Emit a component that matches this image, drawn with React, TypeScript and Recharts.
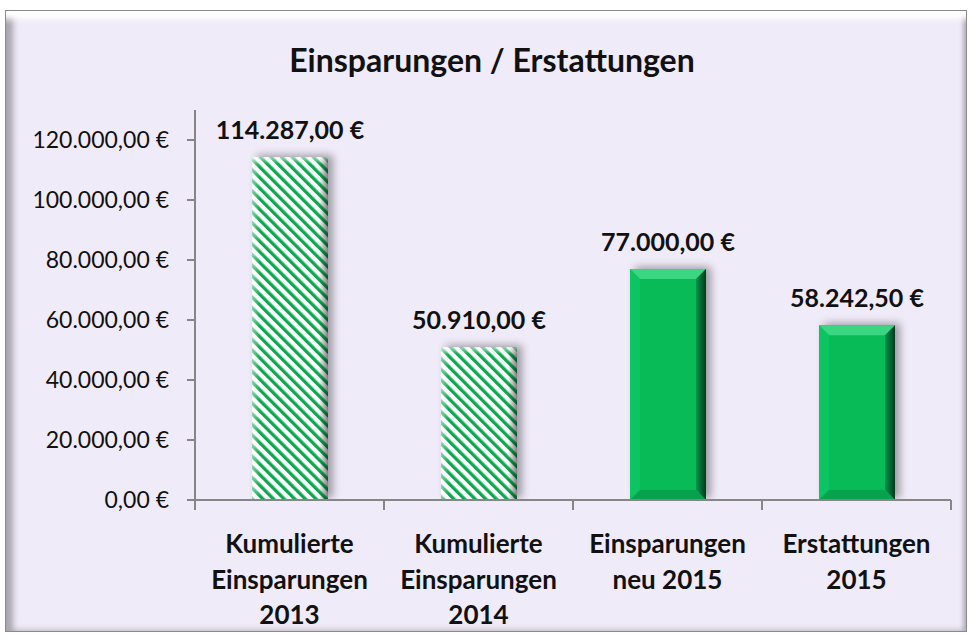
import { ComposedChart, Bar, XAxis, YAxis, LabelList } from "recharts";

const categories = [
  ["Kumulierte", "Einsparungen", "2013"],
  ["Kumulierte", "Einsparungen", "2014"],
  ["Einsparungen", "neu 2015"],
  ["Erstattungen", "2015"],
];
const values = [114287, 50910, 77000, 58242.5];
const hatched = [true, true, false, false];
const yTicks = [0, 20000, 40000, 60000, 80000, 100000, 120000];

const data = categories.map((lines, i) => ({
  name: lines.join(" "),
  lines,
  value: values[i],
  hatched: hatched[i],
}));

const FONT = "Lato, 'Open Sans', sans-serif";
const AXIS = "#868686";

// 114287 -> "114.287,00 €"
function euro(v: number) {
  const [int, dec] = Number(v).toFixed(2).split(".");
  const withDots = int.replace(/\B(?=(\d{3})+(?!\d))/g, ".");
  return `${withDots},${dec} €`;
}

// category label plus the tick marks on the category boundaries (Excel style)
function CategoryTick(props: any) {
  const { x, y, payload, index, visibleTicksCount } = props;
  const row = data.find((d) => d.name === payload.value);
  const lines = row ? row.lines : [String(payload.value)];
  const half = payload?.offset;
  return (
    <g>
      {typeof half === "number" && half > 0 && (
        <g stroke={AXIS} strokeWidth={2}>
          <line x1={x - half} x2={x - half} y1={y} y2={y + 10} />
          {index === visibleTicksCount - 1 && (
            <line x1={x + half} x2={x + half} y1={y} y2={y + 10} />
          )}
        </g>
      )}
      <text
        x={x}
        y={y}
        textAnchor="middle"
        fontFamily={FONT}
        fontWeight={700}
        fontSize={26}
        fill="#111"
      >
        {lines.map((l, i) => (
          <tspan key={i} x={x} y={y + 53 + i * 35.5}>
            {l}
          </tspan>
        ))}
      </text>
    </g>
  );
}

function ValueLabel(props: any) {
  const { x, y, width, value } = props;
  return (
    <text
      x={x + width / 2}
      y={y - 18}
      textAnchor="middle"
      fontFamily={FONT}
      fontWeight={700}
      fontSize={25}
      fill="#111"
    >
      {euro(Number(value))}
    </text>
  );
}

function BevelBar(props: any) {
  const { x, y, width: w, height: h, payload } = props;
  if (!h || h <= 0) return null;
  const isHatch = payload?.hatched;
  const b = 10;
  return (
    <g>
      <rect
        x={x}
        y={y}
        width={w}
        height={h}
        fill="#000"
        filter="url(#barShadow)"
      />
      <rect
        x={x}
        y={y}
        width={w}
        height={h}
        fill={isHatch ? "url(#stripes)" : "#08BB57"}
      />
      {isHatch ? (
        <g>
          <rect x={x} y={y} width={w} height={h} fill="url(#hatchShade)" />
          <rect x={x} y={y} width={w} height={7} fill="url(#hatchTop)" />
        </g>
      ) : (
        <g>
          <polygon
            points={`${x},${y} ${x + w},${y} ${x + w - b},${y + b} ${x + b},${y + b}`}
            fill="#3AD681"
          />
          <polygon
            points={`${x},${y} ${x + b},${y + b} ${x + b},${y + h - b} ${x},${y + h}`}
            fill="#0DC462"
          />
          <polygon
            points={`${x + w},${y} ${x + w},${y + h} ${x + w - b},${y + h - b} ${x + w - b},${y + b}`}
            fill="url(#rightBevel)"
          />
          <polygon
            points={`${x},${y + h} ${x + b},${y + h - b} ${x + w - b},${y + h - b} ${x + w},${y + h}`}
            fill="#06A24D"
          />
        </g>
      )}
    </g>
  );
}

export default function App() {
  return (
    <div
      style={{
        position: "absolute",
        left: 5,
        top: 10,
        width: 960,
        height: 620,
        background: "#F0EBF8",
        border: "1px solid #8a8a8a",
        boxShadow:
          "inset 0 14px 6px -6px #ffffff, inset 11px 0 6px -4px #a8a4ae, inset -5px 0 4px -2px #b2aeba, inset 0 -6px 5px -3px #d6d2de",
        fontFamily: FONT,
      }}
    >
      <div
        style={{
          position: "absolute",
          left: 0,
          right: 0,
          top: 29,
          textAlign: "center",
          fontSize: 32,
          fontWeight: 700,
          color: "#111",
          paddingLeft: 12,
        }}
      >
        Einsparungen / Erstattungen
      </div>
      <div style={{ position: "absolute", left: -1, top: -1 }}>
        <ComposedChart
          width={962}
          height={622}
          data={data}
          margin={{ top: 100, right: 16, left: 0, bottom: 0 }}
        >
          <defs>
            <pattern
              id="stripes"
              width="7.5"
              height="7.5"
              patternUnits="userSpaceOnUse"
              patternTransform="rotate(-45)"
            >
              <rect x="0" y="0" width="7.5" height="7.5" fill="#ffffff" />
              <rect x="0" y="0" width="3.3" height="7.5" fill="#0CA850" />
            </pattern>
            <linearGradient id="hatchShade" x1="0" y1="0" x2="1" y2="0">
              <stop offset="0" stopColor="#ffffff" stopOpacity={0.5} />
              <stop offset="0.1" stopColor="#ffffff" stopOpacity={0} />
              <stop offset="0.88" stopColor="#000000" stopOpacity={0} />
              <stop offset="1" stopColor="#000000" stopOpacity={0.5} />
            </linearGradient>
            <linearGradient id="hatchTop" x1="0" y1="0" x2="0" y2="1">
              <stop offset="0" stopColor="#ffffff" stopOpacity={0.55} />
              <stop offset="1" stopColor="#ffffff" stopOpacity={0} />
            </linearGradient>
            <linearGradient id="rightBevel" x1="0" y1="0" x2="1" y2="0">
              <stop offset="0" stopColor="#05964A" />
              <stop offset="1" stopColor="#013A1C" />
            </linearGradient>
            <filter id="barShadow" x="-30%" y="-30%" width="160%" height="160%">
              <feGaussianBlur stdDeviation="4" />
              <feOffset dx="5" dy="-2" result="b" />
              <feComponentTransfer>
                <feFuncA type="linear" slope="0.35" />
              </feComponentTransfer>
            </filter>
          </defs>
          <XAxis
            dataKey="name"
            height={132}
            axisLine={{ stroke: AXIS, strokeWidth: 2 }}
            tickLine={false}
            tickSize={0}
            tickMargin={0}
            tick={<CategoryTick />}
            interval={0}
          />
          <YAxis
            domain={[0, 130000]}
            ticks={yTicks}
            width={190}
            interval={0}
            allowDataOverflow
            axisLine={{ stroke: AXIS, strokeWidth: 2 }}
            tickLine={{ stroke: AXIS, strokeWidth: 2 }}
            tickSize={8}
            tickMargin={18}
            tickFormatter={euro}
            tick={{ fontFamily: FONT, fontSize: 23, fill: "#111" }}
          />
          <Bar
            dataKey="value"
            barSize={76}
            shape={<BevelBar />}
            isAnimationActive={false}
          >
            <LabelList dataKey="value" content={<ValueLabel />} />
          </Bar>
        </ComposedChart>
      </div>
    </div>
  );
}
